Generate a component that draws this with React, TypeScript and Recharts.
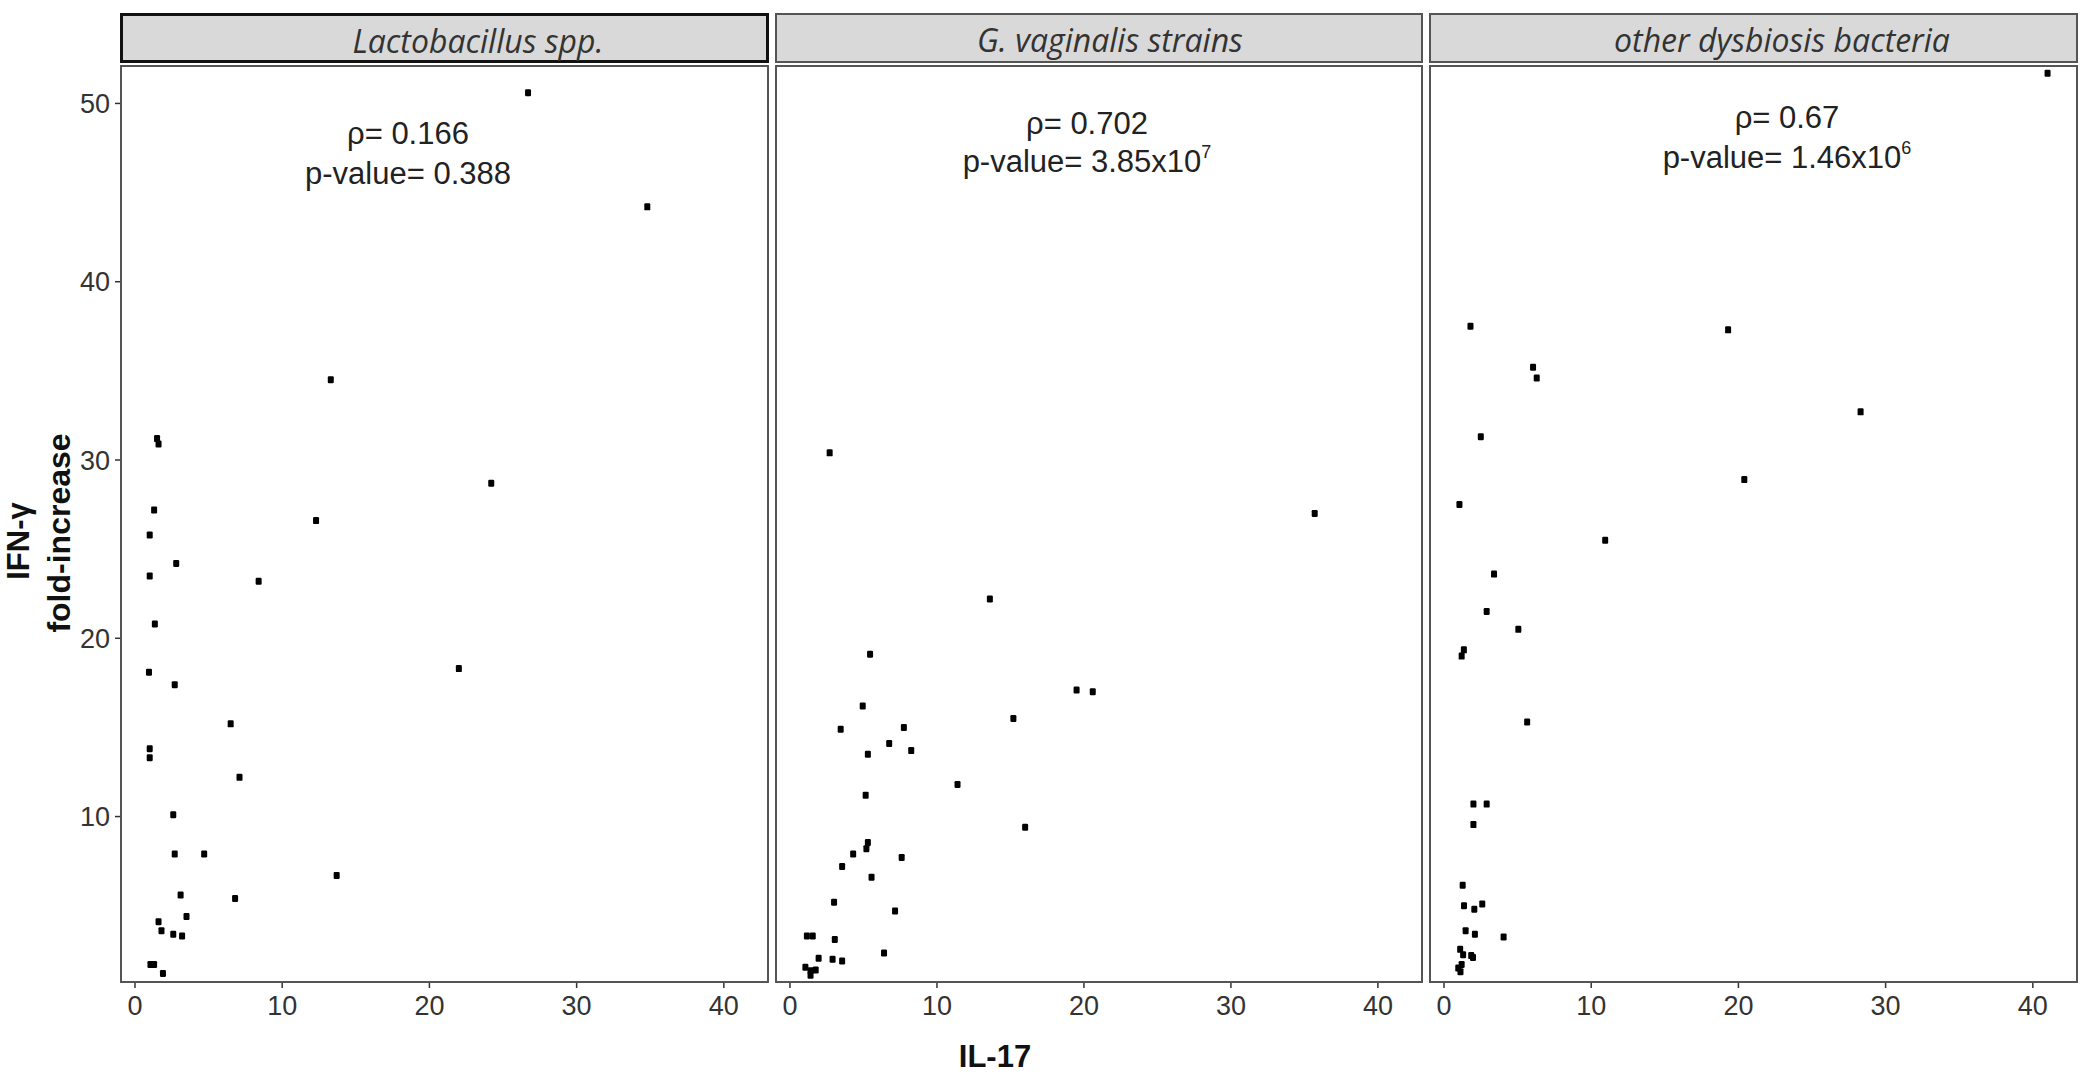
import React from 'react'
import { ScatterChart, Scatter, XAxis, YAxis } from 'recharts'

// IL-17 (x) vs IFN-γ fold-increase (y), one list per panel
const lactobacillusPts: [number, number][] = [
	[26.7, 50.6], [34.8, 44.2], [13.3, 34.5], [1.5, 31.2], [1.6, 30.9], [24.2, 28.7],
	[1.3, 27.2], [12.3, 26.6], [1.0, 25.8], [2.8, 24.2], [1.0, 23.5], [8.4, 23.2],
	[1.35, 20.8], [0.95, 18.1], [22.0, 18.3], [2.7, 17.4], [6.5, 15.2], [1.0, 13.8],
	[1.0, 13.3], [7.1, 12.2], [2.6, 10.1], [2.7, 7.9], [4.7, 7.9], [13.7, 6.7],
	[3.1, 5.6], [6.8, 5.4], [3.5, 4.4], [1.6, 4.1], [1.8, 3.6], [2.6, 3.4],
	[3.2, 3.3], [1.05, 1.7], [1.3, 1.7], [1.9, 1.2],
]

const gVaginalisPts: [number, number][] = [
	[2.7, 30.4], [35.7, 27.0], [13.6, 22.2], [5.45, 19.1], [19.5, 17.1], [20.6, 17.0],
	[4.95, 16.2], [15.2, 15.5], [3.45, 14.9], [7.75, 15.0], [6.75, 14.1], [5.3, 13.5],
	[8.25, 13.7], [11.4, 11.8], [5.15, 11.2], [16.0, 9.4], [5.3, 8.55], [5.2, 8.2],
	[4.3, 7.9], [7.6, 7.7], [3.55, 7.2], [5.55, 6.6], [3.0, 5.2], [7.15, 4.7],
	[1.15, 3.3], [1.55, 3.3], [3.05, 3.1], [6.4, 2.35], [1.95, 2.05], [2.9, 2.0],
	[3.55, 1.9], [1.05, 1.55], [1.4, 1.35], [1.75, 1.4], [1.4, 1.1],
]

const otherPts: [number, number][] = [
	[41.0, 51.7], [1.8, 37.5], [19.3, 37.3], [6.05, 35.2], [6.3, 34.6], [28.3, 32.7],
	[2.5, 31.3], [20.4, 28.9], [1.05, 27.5], [10.95, 25.5], [3.4, 23.6], [2.9, 21.5],
	[5.05, 20.5], [1.35, 19.35], [1.2, 19.0], [5.65, 15.3], [2.0, 10.7], [2.9, 10.7],
	[2.0, 9.55], [1.27, 6.15], [1.36, 5.0], [2.06, 4.8], [2.6, 5.1], [1.47, 3.6],
	[2.1, 3.4], [4.05, 3.25], [1.1, 2.55], [1.3, 2.25], [1.85, 2.2], [1.97, 2.1],
	[1.2, 1.7], [0.97, 1.5], [1.12, 1.3],
]

const panelTitles = ['Lactobacillus spp.', 'G. vaginalis strains', 'other dysbiosis bacteria']
const rhoLabels = ['ρ= 0.166', 'ρ= 0.702', 'ρ= 0.67']
const pLabels = ['p-value= 0.388', 'p-value= 3.85x10', 'p-value= 1.46x10']
const pExponents = ['', '7', '6']

const xTicks = [0, 10, 20, 30, 40]
const yTicks = [10, 20, 30, 40, 50]
const X_DOMAIN = [-0.95, 43.0]
const Y_DOMAIN = [0.72, 52.1]

const FONT = "'Liberation Sans', Arial, sans-serif"
const TICK_COLOR = '#333'

// page layout (px)
const PLOT_TOP = 66
const PLOT_BOTTOM = 982
const panels = [
	{ left: 121, right: 768, titleX: 475, textX: 408, rhoY: 144, pY: 184, stripBorder: '3px solid #111' },
	{ left: 776, right: 1422, titleX: 1108, textX: 1087, rhoY: 134, pY: 172, stripBorder: '2px solid #555' },
	{ left: 1430, right: 2077, titleX: 1780, textX: 1787, rhoY: 128, pY: 168, stripBorder: '2px solid #555' },
]

const toRows = (pts: [number, number][]) => pts.map(([x, y]) => ({ x, y }))
const panelData = [toRows(lactobacillusPts), toRows(gVaginalisPts), toRows(otherPts)]

const Square = (props: any) => {
	const { cx, cy } = props
	if (cx == null || cy == null) return null
	return <rect x={cx - 3} y={cy - 3.5} width={6} height={7} rx={1.2} fill='#000' />
}

const Panel = ({ index }: { index: number }) => {
	const p = panels[index]
	const first = index === 0
	const yAxisW = first ? p.left : 0
	const chartLeft = first ? 0 : p.left
	const width = p.right - chartLeft + 10
	const height = 1040
	return (
		<div style={{ position: 'absolute', left: chartLeft, top: 0 }}>
			<ScatterChart
				width={width}
				height={height}
				margin={{ top: PLOT_TOP, right: 10, left: 0, bottom: 0 }}
			>
				<XAxis
					type='number'
					dataKey='x'
					domain={X_DOMAIN}
					ticks={xTicks}
					allowDataOverflow
					axisLine={false}
					tickLine={{ stroke: TICK_COLOR, strokeWidth: 1.5 }}
					tickSize={6}
					tickMargin={8}
					height={height - PLOT_BOTTOM}
					tick={{ fill: TICK_COLOR, fontSize: 27, fontFamily: FONT }}
				/>
				<YAxis
					type='number'
					dataKey='y'
					domain={Y_DOMAIN}
					ticks={yTicks}
					allowDataOverflow
					hide={!first}
					width={yAxisW}
					axisLine={false}
					tickLine={{ stroke: TICK_COLOR, strokeWidth: 1.5 }}
					tickSize={6}
					tickMargin={5}
					tick={{ fill: TICK_COLOR, fontSize: 27, fontFamily: FONT }}
				/>
				<Scatter data={panelData[index]} shape={Square} isAnimationActive={false} />
			</ScatterChart>
		</div>
	)
}

const App = () => {
	return (
		<div style={{ position: 'absolute', left: 0, top: 0, width: 2094, height: 1074, background: '#fff', overflow: 'hidden' }}>
			{panels.map((_, i) => (
				<Panel key={`panel-${i}`} index={i} />
			))}

			{/* panel frames and strips */}
			{panels.map((p, i) => (
				<React.Fragment key={`frame-${i}`}>
					<div
						style={{
							position: 'absolute',
							left: p.left - 1,
							top: PLOT_TOP - 1,
							width: p.right - p.left + 2,
							height: PLOT_BOTTOM - PLOT_TOP + 2,
							border: '2px solid #555',
							boxSizing: 'border-box',
							pointerEvents: 'none',
						}}
					/>
					<div
						style={{
							position: 'absolute',
							left: p.left - 1,
							top: 13,
							width: p.right - p.left + 2,
							height: 50,
							background: '#d9d9d9',
							border: p.stripBorder,
							boxSizing: 'border-box',
						}}
					>
						<div
							style={{
								position: 'absolute',
								left: p.titleX - p.left + 1,
								top: 0,
								transform: 'translateX(-50%)',
								whiteSpace: 'nowrap',
								fontFamily: "'Open Sans', sans-serif",
								fontStyle: 'italic',
								fontSize: 32,
								lineHeight: '50px',
								color: '#333',
							}}
						>
							{panelTitles[i]}
						</div>
					</div>
				</React.Fragment>
			))}

			{/* annotations and axis titles */}
			<svg width={2094} height={1074} style={{ position: 'absolute', left: 0, top: 0, pointerEvents: 'none' }}>
				{panels.map((p, i) => (
					<g key={`ann-${i}`} fontFamily={FONT} fontSize={31} fill='#222' textAnchor='middle'>
						<text x={p.textX} y={p.rhoY}>{rhoLabels[i]}</text>
						<text x={p.textX} y={p.pY}>
							{pLabels[i]}
							{pExponents[i] && (
								<tspan fontSize={18} dy={-14}>{pExponents[i]}</tspan>
							)}
						</text>
					</g>
				))}
				<g fontFamily={FONT} fontWeight='bold' fill='#111' textAnchor='middle'>
					<text transform='translate(29,541) rotate(-90)' fontSize={31}>IFN-γ</text>
					<text transform='translate(70,533) rotate(-90)' fontSize={32}>fold-increase</text>
					<text x={995} y={1067} fontSize={31}>IL-17</text>
				</g>
			</svg>
		</div>
	)
}

export default App
